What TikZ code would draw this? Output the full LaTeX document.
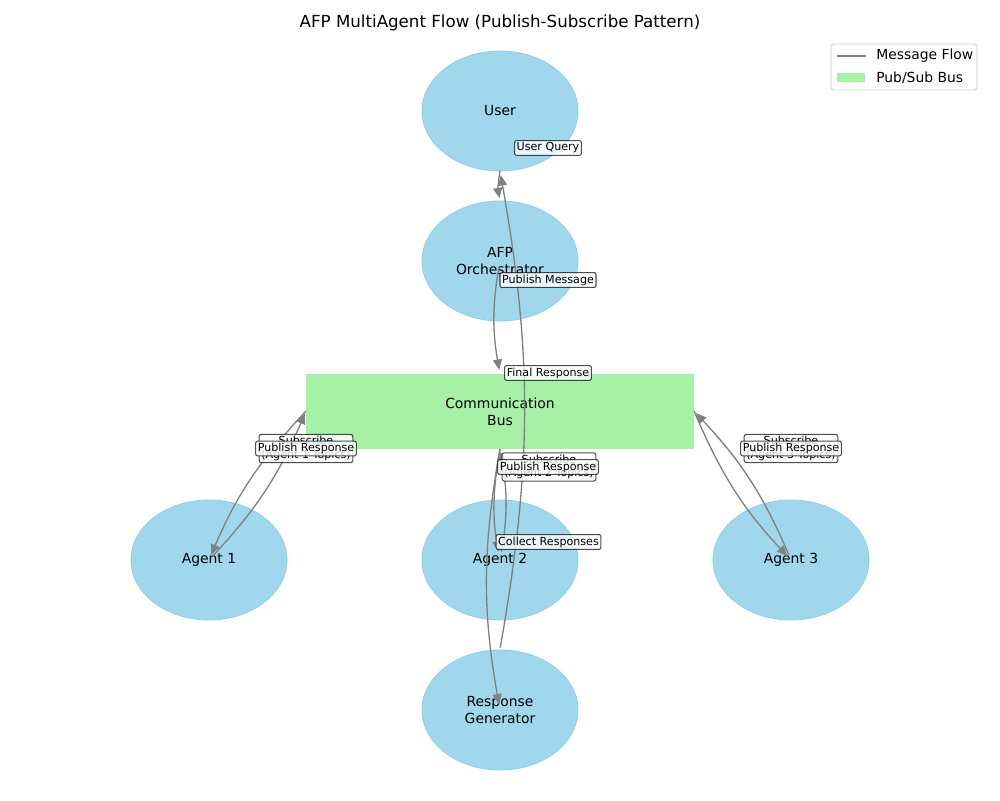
\documentclass[tikz,border=0pt]{standalone}
\usepackage{fontspec}
\setmainfont{DejaVu Sans}
\usetikzlibrary{shapes.geometric,arrows.meta}
\definecolor{nodeblue}{RGB}{160,215,237}
\definecolor{nodeedge}{RGB}{143,206,233}
\definecolor{busgreen}{RGB}{166,241,166}
\definecolor{flowgray}{RGB}{128,128,128}
\begin{document}
\begin{tikzpicture}[x=0.72pt,y=0.72pt,
  agent/.style={ellipse, fill=nodeblue, draw=nodeedge, line width=0.6pt,
    minimum width=112.3pt, minimum height=86.4pt, inner sep=0pt, align=center,
    font=\fontsize{10}{12}\selectfont},
  busbox/.style={fill=busgreen, minimum width=279.4pt, minimum height=54pt,
    inner sep=0pt, align=center, font=\fontsize{10}{12}\selectfont},
  flow/.style={draw=flowgray, line width=0.95pt, -{Triangle[length=7.5pt,width=6.5pt]}},
  elabel/.style={draw=black, line width=0.75pt, fill=white, fill opacity=0.8, draw opacity=0.7,
    text opacity=1, rounded corners=1.5pt, inner sep=1.5pt, align=center,
    font=\fontsize{8}{9.6}\selectfont},
  legtext/.style={anchor=west, inner sep=0pt, font=\fontsize{10}{12}\selectfont}]

\useasboundingbox (0,0) rectangle (1000,800);
\fill[white] (0,0) rectangle (1000,800);

% title
\node[font=\fontsize{12}{14}\selectfont] (title) at (500,777)
  {AFP MultiAgent Flow (Publish-Subscribe Pattern)};

% nodes
\node[agent] (user) at (500,689) {User};
\node[agent] (orch) at (500,539) {AFP\\Orchestrator};
\node[busbox] (bus) at (500,388.5) {Communication\\Bus};
\node[agent] (a1) at (209,240) {Agent 1};
\node[agent] (a2) at (500,240) {Agent 2};
\node[agent] (a3) at (791,240) {Agent 3};
\node[agent] (rg) at (500,90) {Response\\Generator};

% connection points
\coordinate (uB) at (500,629);
\coordinate (oT) at (500,599);
\coordinate (bT) at (500,426);
\coordinate (bB) at (500,351);
\coordinate (bL) at (306,389);
\coordinate (bR) at (694,389);
\coordinate (rT) at (500,151);

% edges
\draw[flow, shorten >=2pt] (uB) to[bend right=10] (oT);
\draw[flow, shorten <=4pt, shorten >=3pt] (orch.center) to[bend right=10] (bT);
\draw[flow, shorten <=1pt, shorten >=3pt] (rT) to[bend right=10] (uB);
\draw[flow, shorten >=4pt] (bL) to[bend right=10] (a1.center);
\draw[flow, shorten <=4pt, shorten >=2pt] (a1.center) to[bend right=10] (bL);
\draw[flow, shorten >=6pt] (bB) to[bend right=10] (a2.center);
\draw[flow, shorten <=6pt, shorten >=2pt] (a2.center) to[bend right=10] (bB);
\draw[flow, shorten >=4pt] (bR) to[bend right=10] (a3.center);
\draw[flow, shorten <=4pt, shorten >=2pt] (a3.center) to[bend right=10] (bR);
\draw[flow, shorten >=4pt] (bB) to[bend right=10] (rg.center);

% edge labels
\node[elabel] (lq) at (548,652) {User Query};
\node[elabel] (lpm) at (548,520) {Publish Message};
\node[elabel] (lfr) at (548,427) {Final Response};
\node[elabel] (ls1) at (306,351.5) {Subscribe\\(Agent 1 Topics)};
\node[elabel] (lp1) at (306,351.5) {Publish Response};
\node[elabel] (ls2) at (549,333) {Subscribe\\(Agent 2 Topics)};
\node[elabel] (lp2) at (548,333) {Publish Response};
\node[elabel] (ls3) at (791,351.5) {Subscribe\\(Agent 3 Topics)};
\node[elabel] (lp3) at (791,351.5) {Publish Response};
\node[elabel] (lcr) at (548.5,258) {Collect Responses};

% legend
\draw[rounded corners=2pt, draw=black!20, fill=white, line width=0.6pt]
  (831,710) rectangle (977,756);
\draw[flowgray, line width=1.6pt] (837,744) -- (866,744);
\node[legtext] (lg1) at (876,744) {Message Flow};
\fill[busgreen] (837,718) rectangle (865,727);
\node[legtext] (lg2) at (876,722) {Pub/Sub Bus};
\end{tikzpicture}
\end{document}
